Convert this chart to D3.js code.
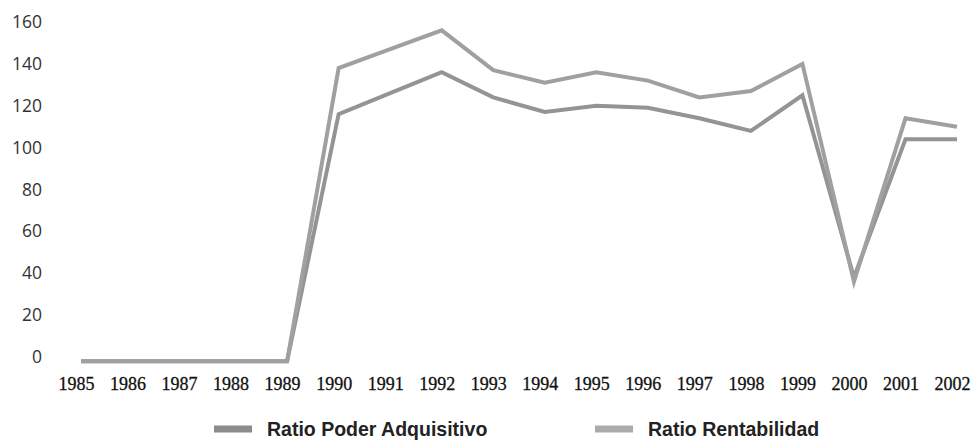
<!DOCTYPE html>
<html>
<head>
<meta charset="utf-8">
<script src="https://cdn.jsdelivr.net/npm/d3@7"></script>
<style>
  body { margin: 0; background: #fff; }
</style>
</head>
<body>
<script>
// Data
var years = ['1985','1986','1987','1988','1989','1990','1991','1992','1993','1994','1995','1996','1997','1998','1999','2000','2001','2002'];
var poderAdquisitivo = [-2, -2, -2, -2, -2, 116, 126, 136, 124, 117, 120, 119, 114, 108, 125, 38, 104, 104];
var rentabilidad = [-2, -2, -2, -2, -2, 138, 147, 156, 137, 131, 136, 132, 124, 127, 140, 36, 114, 110];
var yTicks = [0, 20, 40, 60, 80, 100, 120, 140, 160];
var seriesNames = ['Ratio Poder Adquisitivo', 'Ratio Rentabilidad'];

// Size
var w = 980;
var h = 440;

var svg = d3.select('body')
  .append('svg')
  .attr('width', w)
  .attr('height', h);

var x = d3.scalePoint()
  .domain(years)
  .range([81, 957]);

var y = d3.scaleLinear()
  .domain([0, 160])
  .range([357, 22]);

// Y axis labels
var yAxis = svg.append('g')
  .attr('transform', 'translate(42,0)')
  .call(d3.axisLeft(y).tickValues(yTicks).tickSize(0).tickPadding(0));
yAxis.select('.domain').remove();
yAxis.selectAll('text')
  .attr('font-family', 'Open Sans, sans-serif')
  .attr('font-size', '17.5px')
  .attr('fill', '#333');

// X axis labels
var xAxis = svg.append('g')
  .attr('transform', 'translate(-5,377)')
  .call(d3.axisBottom(x).tickSize(0).tickPadding(0));
xAxis.select('.domain').remove();
xAxis.selectAll('text')
  .attr('font-family', 'Liberation Serif, serif')
  .attr('font-size', '18px')
  .attr('fill', '#111')
  .attr('stroke', '#111')
  .attr('stroke-width', 0.3);

// Lines
var line = d3.line()
  .x(function(d, i) { return x(years[i]); })
  .y(function(d) { return y(d); });

var colors = ['#949494', '#a0a0a0'];
[poderAdquisitivo, rentabilidad].forEach(function(s, k) {
  svg.append('path')
    .datum(s)
    .attr('d', line)
    .attr('fill', 'none')
    .attr('stroke', colors[k])
    .attr('stroke-width', 4)
    .attr('stroke-linejoin', 'miter');
});

// Legend
var legendX = [214, 595];
var legend = svg.selectAll('.legend')
  .data(seriesNames)
  .enter()
  .append('g')
  .attr('transform', function(d, i) { return 'translate(' + legendX[i] + ',429)'; });

legend.append('rect')
  .attr('x', 0)
  .attr('y', -3.5)
  .attr('width', 38)
  .attr('height', 7)
  .attr('fill', function(d, i) { return i === 0 ? '#8c8c8c' : '#ababab'; });

legend.append('text')
  .text(function(d) { return d; })
  .attr('x', 53)
  .attr('y', 7)
  .attr('font-family', 'Liberation Sans, Arial, sans-serif')
  .attr('font-weight', 'bold')
  .attr('font-size', '19.5px')
  .attr('fill', '#222');
</script>
</body>
</html>
